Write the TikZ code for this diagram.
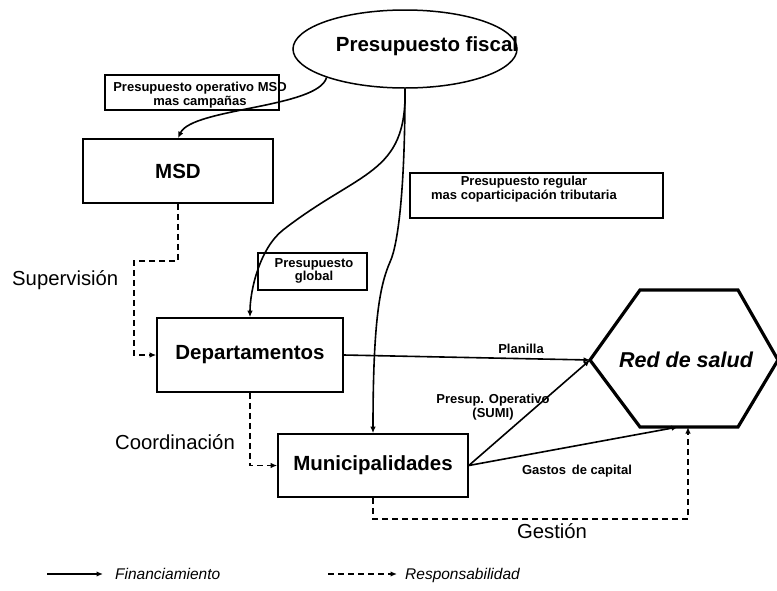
\documentclass[tikz,border=0pt]{standalone}
\usepackage{fontspec}
\setmainfont{Liberation Sans}
\usetikzlibrary{shapes.geometric,arrows.meta,calc}

\newcommand\boxfont{\fontsize{20.5}{23}\selectfont\bfseries}
\newcommand\tagfont{\fontsize{13}{13.5}\selectfont\bfseries}
\newcommand\notefont{\fontsize{20.3}{24}\selectfont}
\newcommand\keyfont{\fontsize{15.5}{18}\selectfont\itshape}

\begin{document}
\begin{tikzpicture}[x=1pt,y=-1pt,
  unit/.style={draw,line width=1.6pt,rectangle,inner sep=0pt},
  tagbox/.style={draw,line width=1.1pt,rectangle,inner sep=0pt},
  tagtext/.style={font=\tagfont,align=center,inner sep=0pt},
  fin/.style={line width=1.6pt,-{Latex[length=6.5pt,width=5.5pt]}},
  resp/.style={line width=1.5pt,dash pattern=on 6pt off 4pt,-{Latex[length=6.5pt,width=5.5pt]}}]

\useasboundingbox (0,0) rectangle (777,590);

% budget source
\node[draw,ellipse,line width=1.5pt,minimum width=224pt,minimum height=78pt,inner sep=0pt] (fiscal) at (405,49) {};
\node[font=\boxfont,inner sep=0pt] (fiscaltxt) at (427,46) {Presupuesto fiscal};

% institutions
\node[unit,minimum width=190pt,minimum height=64pt] (msd) at (178,171) {};
\node[font=\boxfont] at (msd) {MSD};
\node[unit,minimum width=186pt,minimum height=74pt] (dep) at (250,355) {};
\node[font=\boxfont] at (dep) {Departamentos};
\node[unit,minimum width=190pt,minimum height=63pt] (mun) at (373,465.5) {};
\node[font=\boxfont] at (mun) {Municipalidades};

% health network hexagon
\coordinate (hexL) at (590,360);
\coordinate (hexG) at (678,427);
\coordinate (hexB) at (688,427);
\draw[line width=3.2pt,line join=miter] (590,360) -- (640,290) -- (738,290) -- (778,360) -- (738,427) -- (640,427) -- cycle;
\node[font=\fontsize{21.5}{24}\selectfont\bfseries\itshape] (red) at (686,360) {Red de salud};

% flow labels in boxes
\node[tagbox,minimum width=174pt,minimum height=35pt] (tagmsd) at (192,92.5) {};
\node[tagtext] (tagmsdtxt) at (200,95) {Presupuesto operativo MSD\\mas campañas};
\node[tagbox,minimum width=109pt,minimum height=37pt] (tagglob) at (312.5,271.5) {};
\node[tagtext] (tagglobtxt) at (314,271) {Presupuesto\\global};
\node[tagbox,minimum width=253pt,minimum height=45pt] (tagreg) at (536.5,195.5) {};
\node[tagtext] (tagregtxt) at (524,189) {Presupuesto regular\\mas coparticipación tributaria};

% financing flows
\draw[fin] (fiscal.200) .. controls (318,108) and (192,108) .. (msd.north);
\draw[fin] (fiscal.south) .. controls (407,175) and (360,170) .. (283,230)
  .. controls (260,248) and (250,290) .. (dep.north);
\draw[fin] (fiscal.south) .. controls (405,190) and (398,245) .. (390,262)
  .. controls (380,285) and (373,320) .. (mun.north);
\draw[fin] (dep.east) -- node[tagtext,above=4pt,pos=0.72] (lplan) {Planilla} (hexL);
\draw[fin] (mun.east) -- (hexL);
\draw[fin] (mun.east) -- (hexG);
\node[tagtext] (lsumi) at (493,407) {Presup. Operativo\\(SUMI)};
\node[tagtext] (lgast) at (577,471) {Gastos\, de capital};

% responsibility lines
\draw[resp] (msd.south) -- ++(0,57) -| ($(dep.west)+(-22,0)$) -- (dep.west);
\draw[resp] (dep.south) |- (mun.west);
\draw[resp] (mun.south) -- ++(0,21) -| (hexB);

\node[font=\notefont,anchor=west,inner sep=0pt] (lsup) at (12,280) {Supervisión};
\node[font=\notefont,anchor=west,inner sep=0pt] (lcoord) at (115,442) {Coordinación};
\node[font=\notefont,inner sep=0pt] (lgest) at (552,531) {Gestión};

% legend
\coordinate (k1a) at (47,574);
\coordinate (k1b) at (103,574);
\coordinate (k2a) at (328,574);
\coordinate (k2b) at (397,574);
\draw[fin] (k1a) -- (k1b);
\node[font=\keyfont,anchor=base west,inner sep=0pt] (kfin) at (115,579.5) {Financiamiento};
\draw[resp] (k2a) -- (k2b);
\node[font=\keyfont,anchor=base west,inner sep=0pt] (kresp) at (405,579.5) {Responsabilidad};
\end{tikzpicture}
\end{document}
